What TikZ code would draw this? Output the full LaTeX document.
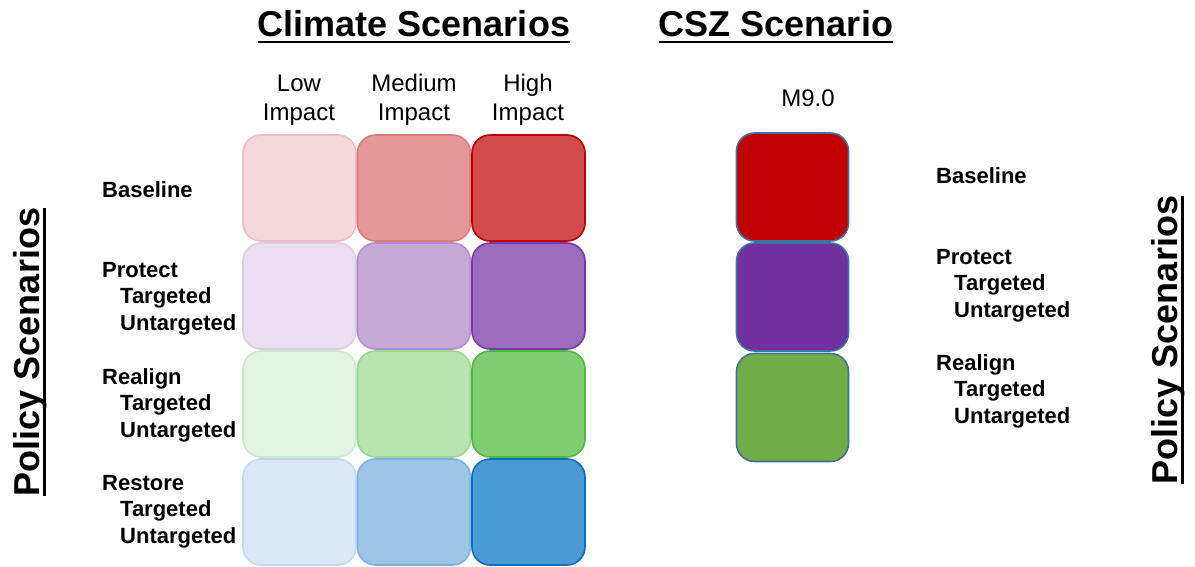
\documentclass[tikz,border=0pt]{standalone}
\usepackage{fontspec}
\setmainfont{Liberation Sans}
\usetikzlibrary{positioning}

% fills and outlines of the scenario cells
\definecolor{redA}{HTML}{F5D8DA}\definecolor{redAb}{HTML}{EFBCC0}
\definecolor{redB}{HTML}{E59898}\definecolor{redBb}{HTML}{DB7C80}
\definecolor{redC}{HTML}{D44B4E}\definecolor{redCb}{HTML}{C00000}
\definecolor{purA}{HTML}{EADFF0}\definecolor{purAb}{HTML}{DDCBE8}
\definecolor{purB}{HTML}{C5AAD8}\definecolor{purBb}{HTML}{B28ECD}
\definecolor{purC}{HTML}{9B6DBC}\definecolor{purCb}{HTML}{7A3BAA}
\definecolor{grnA}{HTML}{E3F4E2}\definecolor{grnAb}{HTML}{CBEAC8}
\definecolor{grnB}{HTML}{B8E4B0}\definecolor{grnBb}{HTML}{9AD790}
\definecolor{grnC}{HTML}{80CE72}\definecolor{grnCb}{HTML}{4DB93E}
\definecolor{bluA}{HTML}{DAE8F5}\definecolor{bluAb}{HTML}{C0D9EF}
\definecolor{bluB}{HTML}{9CC5E6}\definecolor{bluBb}{HTML}{7EB2DE}
\definecolor{bluC}{HTML}{4A9AD3}\definecolor{bluCb}{HTML}{0A70C0}
\definecolor{cszRed}{HTML}{C00000}
\definecolor{cszPur}{HTML}{7030A0}
\definecolor{cszGrn}{HTML}{70AD47}
\definecolor{cszEdge}{HTML}{41719C}

% underlined heading text
\newsavebox\ulbox
\newcommand\ulined[1]{\sbox\ulbox{#1}\usebox\ulbox\llap{\rule[-6.5pt]{\wd\ulbox}{2.8pt}}}

\tikzset{
  cell/.style={draw=#1, line width=1.6pt, rounded corners=18pt, inner sep=0pt,
    minimum width=113pt, minimum height=106pt},
  csz/.style={fill=#1, draw=cszEdge, line width=1.6pt, rounded corners=18pt,
    inner sep=0pt, minimum width=112pt, minimum height=108pt},
  title/.style={font=\fontsize{36}{40}\selectfont\bfseries, inner sep=0pt, anchor=base},
  colhead/.style={font=\fontsize{24}{29}\selectfont, align=center, inner sep=0pt, anchor=base},
  rowlab/.style={font=\fontsize{22}{26.5}\selectfont\bfseries, align=left, inner sep=0pt,
    anchor=base west},
  sideline/.style={font=\fontsize{36}{40}\selectfont\bfseries, inner sep=0pt, anchor=base,
    rotate=90}
}

\begin{document}
\begin{tikzpicture}[x=1pt, y=-1pt]
\useasboundingbox (0,0) rectangle (1195,567);

% headings
\node[title] (climate) at (414,37) {\ulined{Climate Scenarios}};
\node[title] (cszhead) at (776,37) {\ulined{CSZ Scenario}};

% column heads (base sits on the last line)
\node[colhead] (low)  at (299,121) {Low\\Impact};
\node[colhead] (med)  at (414,121) {Medium\\Impact};
\node[colhead] (high) at (528,121) {High\\Impact};
\node[colhead] (m9)   at (808,107) {M9.0};

% climate grid: rows are policies, columns are impact levels
\node[cell=redAb, fill=redA] (r1c1) at (299.5,188) {};
\node[cell=redBb, fill=redB] (r1c2) at (414,188) {};
\node[cell=redCb, fill=redC] (r1c3) at (528.5,188) {};
\node[cell=purAb, fill=purA] (r2c1) at (299.5,296) {};
\node[cell=purBb, fill=purB] (r2c2) at (414,296) {};
\node[cell=purCb, fill=purC] (r2c3) at (528.5,296) {};
\node[cell=grnAb, fill=grnA] (r3c1) at (299.5,404) {};
\node[cell=grnBb, fill=grnB] (r3c2) at (414,404) {};
\node[cell=grnCb, fill=grnC] (r3c3) at (528.5,404) {};
\node[cell=bluAb, fill=bluA] (r4c1) at (299.5,512) {};
\node[cell=bluBb, fill=bluB] (r4c2) at (414,512) {};
\node[cell=bluCb, fill=bluC] (r4c3) at (528.5,512) {};

% earthquake column
\node[csz=cszRed] (q1) at (792.5,187) {};
\node[csz=cszPur] (q2) at (792.5,297) {};
\node[csz=cszGrn] (q3) at (792.5,407.5) {};

% policy labels, left (base sits on the last line)
\node[rowlab] (lbase) at (102,197) {Baseline};
\node[rowlab] (lprot) at (102,330) {Protect\\\hspace*{18pt}Targeted\\\hspace*{18pt}Untargeted};
\node[rowlab] (lreal) at (102,437) {Realign\\\hspace*{18pt}Targeted\\\hspace*{18pt}Untargeted};
\node[rowlab] (lrest) at (102,543) {Restore\\\hspace*{18pt}Targeted\\\hspace*{18pt}Untargeted};

% policy labels, right
\node[rowlab] (rbase) at (936,184) {Baseline};
\node[rowlab] (rprot) at (936,317) {Protect\\\hspace*{18pt}Targeted\\\hspace*{18pt}Untargeted};
\node[rowlab] (rreal) at (936,423) {Realign\\\hspace*{18pt}Targeted\\\hspace*{18pt}Untargeted};

% side headings
\node[sideline] (lpol) at (39,352) {\ulined{Policy Scenarios}};
\node[sideline] (rpol) at (1177,340) {\ulined{Policy Scenarios}};
\end{tikzpicture}
\end{document}
